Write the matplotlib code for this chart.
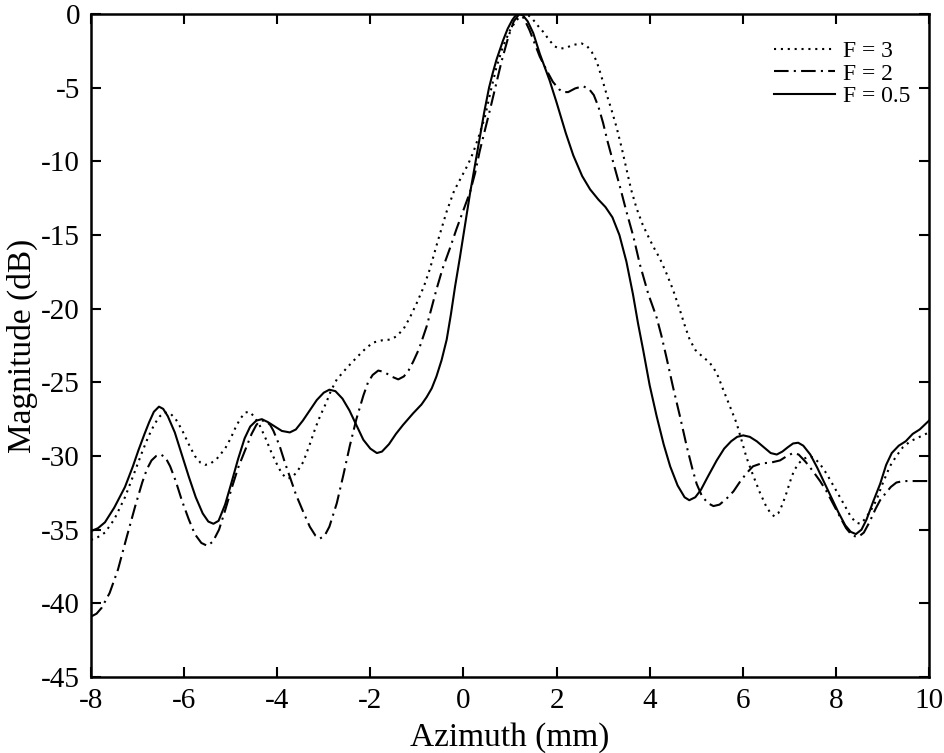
import matplotlib
matplotlib.use("Agg")
import matplotlib.pyplot as plt

plt.rcParams['font.family'] = ['Liberation Serif', 'DejaVu Serif']
plt.rcParams['axes.unicode_minus'] = False

# F = 3 (dotted)
x_f3 = [-8.0, -7.85, -7.7, -7.5, -7.27, -7.1, -6.91, -6.77, -6.63, -6.52, -6.42, -6.3, -6.18,
        -6.05, -5.9, -5.77, -5.65, -5.55, -5.45, -5.3, -5.12, -5.0, -4.9, -4.8, -4.69, -4.6,
        -4.5, -4.38, -4.25, -4.12, -4.0, -3.9, -3.8, -3.7, -3.58, -3.44, -3.3, -3.18, -3.08,
        -2.95, -2.85, -2.72, -2.5, -2.29, -2.1, -1.94, -1.75, -1.58, -1.45, -1.29, -1.15, -1.0,
        -0.85, -0.72, -0.55, -0.36, -0.2, 0.0, 0.1, 0.21, 0.33, 0.46, 0.58, 0.71, 0.85, 1.0,
        1.12, 1.22, 1.3, 1.4, 1.5, 1.6, 1.71, 1.85, 1.96, 2.07, 2.2, 2.35, 2.54, 2.66, 2.76,
        2.86, 2.96, 3.07, 3.18, 3.29, 3.4, 3.5, 3.6, 3.72, 3.85, 3.97, 4.08, 4.22, 4.36, 4.5,
        4.65, 4.76, 4.86, 4.98, 5.15, 5.27, 5.37, 5.47, 5.58, 5.72, 5.87, 5.98, 6.08, 6.22,
        6.37, 6.5, 6.6, 6.68, 6.76, 6.85, 6.94, 7.02, 7.1, 7.2, 7.3, 7.42, 7.52, 7.65, 7.8,
        7.98, 8.16, 8.3, 8.42, 8.52, 8.62, 8.75, 8.87, 9.0, 9.16, 9.3, 9.44, 9.6, 9.8, 10.0]
y_f3 = [-35.7, -35.5, -35.2, -34.3, -32.8, -31.4, -29.8, -28.7, -27.8, -27.3, -27.05, -27.1, -27.5,
        -28.2, -29.2, -30.0, -30.45, -30.6, -30.55, -30.2, -29.5, -28.8, -28.1, -27.5, -27.05, -27.0,
        -27.3, -27.9, -28.8, -29.8, -30.6, -31.2, -31.5, -31.5, -31.1, -30.4, -29.2, -28.1, -27.3,
        -26.4, -25.6, -24.8, -24.0, -23.3, -22.7, -22.3, -22.15, -22.1, -21.9, -21.4, -20.6, -19.6,
        -18.5, -17.3, -15.4, -13.4, -12.0, -10.8, -10.2, -9.4, -8.3, -7.0, -5.3, -3.6, -2.2, -1.1,
        -0.5, -0.15, 0.0, -0.1, -0.4, -0.8, -1.2, -1.8, -2.2, -2.35, -2.3, -2.1, -2.0, -2.2, -2.6,
        -3.2, -4.2, -5.4, -6.5, -7.7, -9.1, -10.5, -11.9, -13.2, -14.3, -15.1, -15.8, -16.6, -17.6, -18.7,
        -20.1, -21.2, -22.1, -22.8, -23.3, -23.6, -24.0, -24.6, -25.5, -26.6, -27.8, -29.0, -30.1, -31.3,
        -32.5, -33.4, -33.9, -34.1, -33.9, -33.3, -32.5, -31.7, -31.0, -30.5, -30.2, -30.05, -30.1, -30.5, -31.2,
        -32.2, -33.2, -34.0, -34.5, -34.6, -34.3, -33.7, -33.0, -31.9, -30.7, -30.0, -29.4, -29.0, -28.7, -28.4]

# F = 2 (dash-dot)
x_f2 = [-8.0, -7.88, -7.77, -7.6, -7.42, -7.25, -7.05, -6.9, -6.8, -6.7, -6.6, -6.5, -6.4, -6.3,
        -6.18, -6.05, -5.9, -5.77, -5.63, -5.5, -5.38, -5.25, -5.12, -4.98, -4.84, -4.69, -4.55,
        -4.45, -4.37, -4.25, -4.15, -4.08, -3.95, -3.83, -3.73, -3.6, -3.44, -3.3, -3.18, -3.08,
        -2.98, -2.88, -2.72, -2.58, -2.44, -2.3, -2.15, -2.05, -1.95, -1.83, -1.7, -1.55, -1.4,
        -1.28, -1.18, -1.08, -0.95, -0.79, -0.68, -0.58, -0.45, -0.29, -0.15, 0.0, 0.14, 0.25,
        0.35, 0.46, 0.57, 0.7, 0.82, 0.96, 1.08, 1.2, 1.3, 1.42, 1.53, 1.64, 1.8, 1.92, 2.05,
        2.14, 2.25, 2.4, 2.57, 2.7, 2.8, 2.9, 3.0, 3.1, 3.22, 3.36, 3.5, 3.65, 3.79, 3.97, 4.15,
        4.25, 4.36, 4.5, 4.65, 4.8, 4.92, 5.01, 5.12, 5.25, 5.37, 5.5, 5.65, 5.8, 5.95, 6.1,
        6.22, 6.4, 6.6, 6.8, 6.95, 7.08, 7.2, 7.35, 7.5, 7.66, 7.8, 7.95, 8.1, 8.22, 8.35, 8.48,
        8.6, 8.72, 8.85, 8.95, 9.05, 9.18, 9.3, 9.45, 9.7, 10.0]
y_f2 = [-40.9, -40.7, -40.3, -39.3, -37.7, -35.7, -33.4, -31.8, -30.9, -30.3, -30.0, -29.9, -30.1, -30.7,
        -31.7, -33.0, -34.3, -35.3, -35.9, -36.1, -35.8, -35.0, -33.7, -32.2, -30.8, -29.6, -28.5,
        -27.9, -27.6, -27.6, -27.9, -28.3, -29.3, -30.5, -31.4, -32.6, -33.8, -34.8, -35.4, -35.6,
        -35.4, -34.8, -33.2, -31.3, -29.3, -27.5, -25.9, -25.0, -24.5, -24.2, -24.3, -24.6, -24.8,
        -24.6, -24.2, -23.6, -22.7, -21.2, -19.9, -18.7, -17.3, -15.9, -14.6, -13.3, -12.1, -10.8,
        -9.3, -7.9, -6.5, -4.8, -3.2, -1.6, -0.5, 0.0, -0.3, -1.1, -2.0, -2.9, -3.9, -4.6, -5.1,
        -5.3, -5.3, -5.05, -4.9, -5.1, -5.5, -6.3, -7.4, -8.7, -10.1, -11.7, -13.4, -15.1, -17.0, -19.0, -20.6,
        -21.8, -23.3, -25.3, -27.3, -29.4, -30.9, -31.9, -32.7, -33.2, -33.4, -33.3, -32.9, -32.4, -31.7, -31.1,
        -30.7, -30.5, -30.45, -30.3, -30.0, -29.8, -29.9, -30.4, -31.0, -31.7, -32.4, -33.3, -34.2, -34.9, -35.4, -35.5,
        -35.2, -34.5, -33.6, -33.0, -32.6, -32.1, -31.8, -31.7, -31.7, -31.7]

# F = 0.5 (solid)
x_f05 = [-8.0, -7.85, -7.7, -7.5, -7.27, -7.1, -6.98, -6.85, -6.75, -6.65, -6.54, -6.45, -6.35,
         -6.2, -6.05, -5.9, -5.75, -5.6, -5.48, -5.37, -5.26, -5.12, -5.0, -4.84, -4.7, -4.58,
         -4.45, -4.33, -4.2, -4.05, -3.9, -3.73, -3.6, -3.45, -3.3, -3.15, -3.0, -2.88, -2.75,
         -2.6, -2.45, -2.3, -2.15, -2.0, -1.86, -1.75, -1.6, -1.45, -1.3, -1.08, -0.9, -0.79,
         -0.68, -0.58, -0.47, -0.36, -0.27, -0.18, -0.08, 0.0, 0.14, 0.25, 0.355, 0.45, 0.55,
         0.63, 0.71, 0.85, 0.95, 1.05, 1.12, 1.2, 1.28, 1.38, 1.5, 1.64, 1.85, 2.0, 2.2, 2.36,
         2.55, 2.72, 2.9, 3.05, 3.2, 3.35, 3.5, 3.64, 3.75, 3.86, 4.0, 4.15, 4.3, 4.44, 4.6,
         4.75, 4.85, 4.98, 5.1, 5.25, 5.44, 5.6, 5.75, 5.88, 6.01, 6.15, 6.3, 6.45, 6.6, 6.73,
         6.85, 6.97, 7.08, 7.19, 7.3, 7.45, 7.6, 7.75, 7.9, 8.05, 8.2, 8.32, 8.43, 8.55, 8.66,
         8.8, 8.95, 9.08, 9.2, 9.35, 9.5, 9.65, 9.8, 10.0]
y_f05 = [-35.1, -34.9, -34.5, -33.5, -32.1, -30.7, -29.6, -28.5, -27.7, -27.0, -26.65, -26.8, -27.3,
         -28.4, -29.9, -31.4, -32.8, -33.9, -34.45, -34.6, -34.4, -33.3, -32.0, -30.2, -28.8, -28.0,
         -27.6, -27.5, -27.7, -28.0, -28.3, -28.4, -28.2, -27.6, -26.9, -26.2, -25.7, -25.5, -25.6,
         -26.1, -26.9, -27.9, -28.9, -29.5, -29.8, -29.7, -29.2, -28.5, -27.9, -27.1, -26.5, -26.0,
         -25.4, -24.6, -23.5, -22.1, -20.4, -18.5, -16.6, -15.0, -12.2, -10.2, -8.3, -6.6, -5.0,
         -4.0, -3.1, -1.8, -1.0, -0.4, -0.1, 0.0, -0.1, -0.5, -1.3, -2.7, -4.5, -6.0, -8.1, -9.6,
         -11.0, -11.9, -12.6, -13.1, -13.8, -15.0, -16.8, -19.0, -21.0, -22.8, -25.2, -27.3, -29.2, -30.7, -32.0,
         -32.8, -33.0, -32.8, -32.3, -31.4, -30.3, -29.5, -29.0, -28.7, -28.6, -28.7, -29.0, -29.4, -29.8, -29.9,
         -29.7, -29.4, -29.15, -29.1, -29.3, -29.9, -30.8, -31.8, -32.8, -33.8, -34.7, -35.15, -35.3, -35.0, -34.3,
         -33.1, -31.9, -30.6, -29.8, -29.3, -29.0, -28.5, -28.2, -27.6]

x_ticks = [-8, -6, -4, -2, 0, 2, 4, 6, 8, 10]
y_ticks = [0, -5, -10, -15, -20, -25, -30, -35, -40, -45]

fig = plt.figure(figsize=(9.44, 7.53), dpi=100)
ax = fig.add_axes([91 / 944, 1 - 677 / 753, (929 - 91) / 944, (677 - 14) / 753])

lw = 1.5
ax.plot(x_f3, y_f3, color='black', lw=lw, linestyle=(0, (1, 2.3)), label='F = 3')
ax.plot(x_f2, y_f2, color='black', lw=lw, linestyle=(0, (7, 2.5, 1, 2.5)), label='F = 2')
ax.plot(x_f05, y_f05, color='black', lw=lw, linestyle='-', label='F = 0.5')

ax.set_xlim(-8, 10)
ax.set_ylim(-45, 0)
ax.set_xticks(x_ticks)
ax.set_xticklabels([str(v) for v in x_ticks])
ax.set_yticks(y_ticks)
ax.set_yticklabels([str(v) for v in y_ticks])
ax.tick_params(direction='in', length=7, width=1.5, top=True, right=True,
               labelsize=21, pad=8)
for s in ax.spines.values():
    s.set_linewidth(1.8)

ax.set_xlabel('Azimuth (mm)', fontsize=24, labelpad=6)
ax.set_ylabel('Magnitude (dB)', fontsize=24, labelpad=2)

leg = ax.legend(loc='upper right', bbox_to_anchor=(0.997, 0.985), frameon=False,
                fontsize=17, handlelength=2.6, handletextpad=0.3, labelspacing=0.05,
                borderpad=0.2)

fig.savefig('out.png', dpi=100)
